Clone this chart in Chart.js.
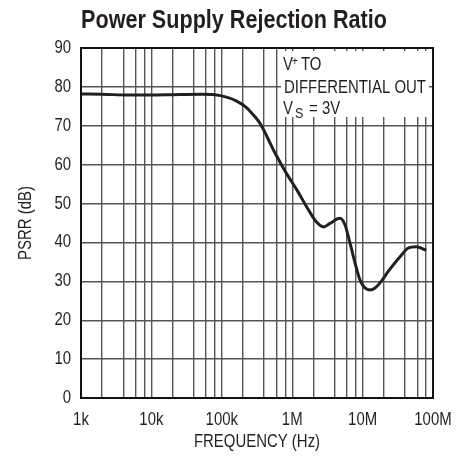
<!DOCTYPE html>
<html><head><meta charset="utf-8">
<script src="https://cdn.jsdelivr.net/npm/chart.js@4/dist/chart.umd.min.js"></script>
<style>html,body{margin:0;padding:0;background:#fff}</style>
</head><body>
<canvas id="c" width="471" height="471"></canvas>
<script>
const frequencies = [1e3, 2e3, 5e3, 1e4, 2e4, 5e4, 8e4, 1.2e5, 1.6e5, 2.2e5, 2.96e5, 3.5e5, 4.1e5, 4.84e5, 5.7e5, 6.7e5, 7.9e5, 9.85e5, 1.21e6, 1.6e6, 2.2e6, 2.8e6, 3.44e6, 4.77e6, 5.63e6, 6.63e6, 7.81e6, 9.2e6, 1.08e7, 1.28e7, 1.5e7, 1.77e7, 2.3e7, 3.4e7, 4.4e7, 5.8e7, 8e7];
const psrrDb = [78.2, 78.1, 77.9, 77.9, 78.0, 78.1, 78.0, 77.3, 76.4, 74.8, 72.3, 70.6, 68.3, 65.6, 63.0, 60.7, 58.4, 55.6, 53.0, 49.2, 45.3, 44.0, 44.9, 46.2, 44.5, 39.8, 34.7, 30.3, 28.3, 27.8, 28.3, 29.6, 32.5, 36.3, 38.5, 38.9, 38.0];
const xMajorValues = [1e3, 1e4, 1e5, 1e6, 1e7, 1e8];
const xMajorLabels = ['1k', '10k', '100k', '1M', '10M', '100M'];
const xGridMultipliers = [1, 2, 4, 6, 8];
const yTickValues = [0, 10, 20, 30, 40, 50, 60, 70, 80, 90];
const titleText = 'Power Supply Rejection Ratio';
const xTitle = 'FREQUENCY (Hz)';
const yTitle = 'PSRR (dB)';
const noteLines = ['TO', 'DIFFERENTIAL OUT', '= 3V'];

const FONT = "'Liberation Sans', Arial, sans-serif";
const GRID = '#555';
const TEXT = '#231f20';
const SX = 0.83; // horizontal condensing of all text (condensed typeface look)

(function () {
  const proto = CanvasRenderingContext2D.prototype;
  const origFill = proto.fillText;
  proto.fillText = function (t, x, y, mw) {
    this.save();
    this.translate(x, y);
    this.scale(SX, 1);
    if (mw !== undefined) origFill.call(this, t, 0, 0, mw / SX);
    else origFill.call(this, t, 0, 0);
    this.restore();
  };
})();

const frame = {
  id: 'frame',
  beforeDraw(chart) {
    const ctx = chart.ctx;
    ctx.save();
    ctx.fillStyle = '#fff';
    ctx.fillRect(0, 0, chart.width, chart.height);
    ctx.restore();
  },
  afterDraw(chart) {
    const {ctx, chartArea: a} = chart;
    ctx.save();
    // note box
    ctx.fillStyle = '#fff';
    ctx.fillRect(281, 51, 148, 66);
    ctx.fillStyle = TEXT;
    ctx.textBaseline = 'alphabetic';
    ctx.textAlign = 'left';
    ctx.font = '18px ' + FONT;
    ctx.fillText('V', 283, 70);
    ctx.font = '12px ' + FONT;
    ctx.fillText('+', 292, 65);
    ctx.font = '18px ' + FONT;
    ctx.fillText(noteLines[0], 301, 70);
    ctx.fillText(noteLines[1], 284, 93);
    ctx.fillText('V', 283, 114);
    ctx.font = '15px ' + FONT;
    ctx.fillText('S', 295, 118);
    ctx.font = '18px ' + FONT;
    ctx.fillText(noteLines[2], 309, 114);
    // frame
    ctx.strokeStyle = '#111';
    ctx.lineWidth = 2;
    ctx.strokeRect(a.left, a.top, a.right - a.left, a.bottom - a.top);
    // title
    ctx.font = 'bold 26px ' + FONT;
    ctx.textAlign = 'center';
    ctx.fillStyle = TEXT;
    ctx.fillText(titleText, 234, 28);
    ctx.restore();
  }
};

const xTicks = [];
for (let d = 3; d < 8; d++) for (const m of xGridMultipliers) xTicks.push(m * Math.pow(10, d));
xTicks.push(1e8);

new Chart(document.getElementById('c'), {
  type: 'line',
  data: {
    datasets: [{
      data: frequencies.map((f, i) => ({x: f, y: psrrDb[i]})),
      borderColor: TEXT,
      borderWidth: 3,
      pointRadius: 0,
      fill: false,
      cubicInterpolationMode: 'monotone'
    }]
  },
  options: {
    responsive: false,
    devicePixelRatio: 1,
    animation: false,
    layout: {padding: {top: 48, right: 38, left: 0, bottom: 0}},
    plugins: {legend: {display: false}, title: {display: false}, tooltip: {enabled: false}},
    scales: {
      x: {
        type: 'logarithmic',
        min: 1e3, max: 1e8,
        afterFit: s => { s.height = 73; },
        afterBuildTicks: s => { s.ticks = xTicks.map(v => ({value: v})); },
        grid: {color: GRID, lineWidth: 1.4, drawTicks: false},
        border: {display: false},
        ticks: {
          autoSkip: false, maxRotation: 0, padding: 11,
          color: TEXT, font: {family: FONT, size: 18},
          callback: v => { const i = xMajorValues.indexOf(v); return i >= 0 ? xMajorLabels[i] : ''; }
        },
        title: {display: true, text: xTitle, color: TEXT, font: {family: FONT, size: 18}, padding: {top: 0, bottom: 18}}
      },
      y: {
        min: 0, max: 90,
        afterFit: s => { s.width = 81; },
        afterBuildTicks: s => { s.ticks = yTickValues.map(v => ({value: v})); },
        grid: {color: GRID, lineWidth: 1.4, drawTicks: false},
        border: {display: false},
        ticks: {padding: 10, color: TEXT, font: {family: FONT, size: 18}},
        title: {display: true, text: yTitle, color: TEXT, font: {family: FONT, size: 18}, padding: {top: 15, bottom: 0}}
      }
    }
  },
  plugins: [frame]
});
</script>
</body></html>
